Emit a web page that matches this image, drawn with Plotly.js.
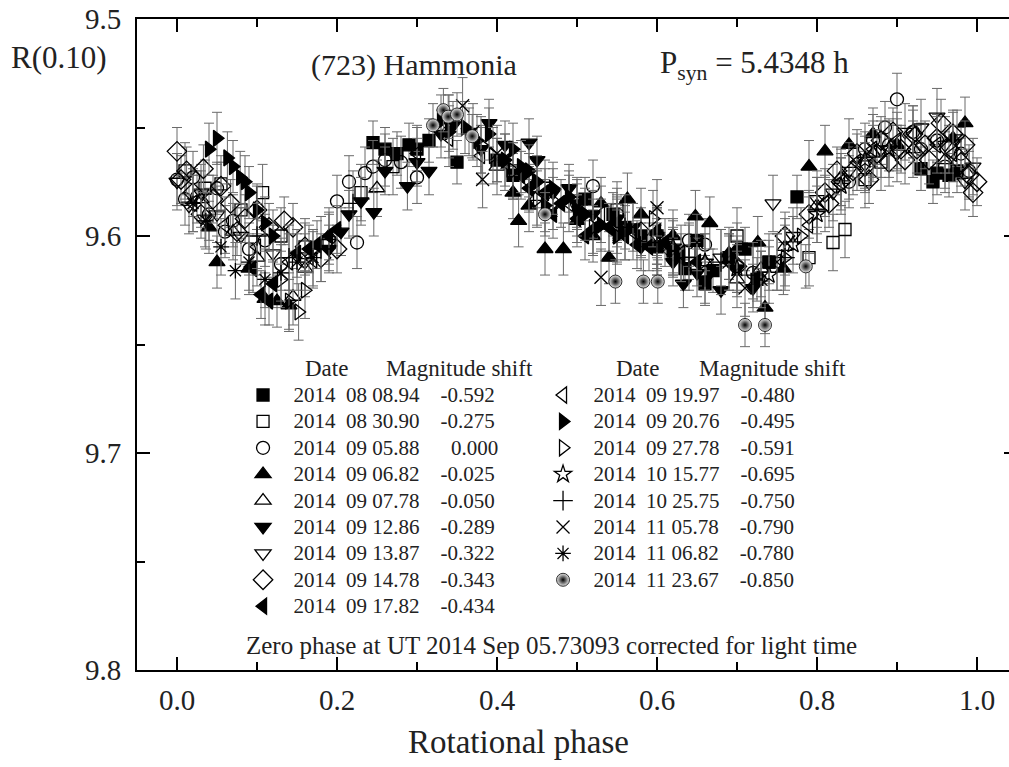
<!DOCTYPE html>
<html>
<head>
<meta charset="utf-8">
<script src="https://cdn.plot.ly/plotly-3.0.1.min.js"></script>
<style>
html,body{margin:0;padding:0;overflow:hidden;background:#fff;}
#chart{width:1030px;height:767px;}
</style>
</head>
<body>
<div id="chart"></div>
<script>
// ---- Session labels (date, magnitude shift) ----
const dates = ["2014 08 08.94","2014 08 30.90","2014 09 05.88","2014 09 06.82","2014 09 07.78","2014 09 12.86","2014 09 13.87","2014 09 14.78","2014 09 17.82",
               "2014 09 19.97","2014 09 20.76","2014 09 27.78","2014 10 15.77","2014 10 25.75","2014 11 05.78","2014 11 06.82","2014 11 23.67"];
const shifts = ["-0.592","-0.275","0.000","-0.025","-0.050","-0.289","-0.322","-0.343","-0.434",
                "-0.480","-0.495","-0.591","-0.695","-0.750","-0.790","-0.780","-0.850"];
const errs = [0.010,0.013,0.012,0.012,0.013,0.011,0.013,0.011,0.011,0.013,0.012,0.013,0.013,0.015,0.013,0.013,0.010];

// ---- Phase / magnitude per session ----
const p01 = [0.245,0.26,0.275,0.29,0.30,0.315,0.35,0.51,0.58,0.62,0.65,0.67,0.69,0.71,0.775,0.93,0.95,0.965,0.975,0.40,0.42,0.545,0.56,0.6,0.635,0.66,0.725,0.74,0.945];
const m01 = [9.557,9.560,9.562,9.558,9.560,9.556,9.566,9.583,9.600,9.607,9.602,9.616,9.610,9.606,9.582,9.569,9.571,9.572,9.570,9.565,9.572,9.590,9.596,9.605,9.615,9.622,9.620,9.612,9.575];
const p02 = [0.01,0.035,0.055,0.08,0.107,0.13,0.16,0.19,0.23,0.27,0.42,0.46,0.55,0.6,0.64,0.7,0.74,0.79,0.82,0.835,0.86,0.88];
const m02 = [9.570,9.578,9.576,9.588,9.580,9.600,9.605,9.603,9.580,9.568,9.570,9.578,9.588,9.600,9.607,9.600,9.612,9.610,9.603,9.597,9.574,9.566];
const p03 = [0.0,0.01,0.025,0.04,0.06,0.09,0.13,0.2,0.215,0.225,0.235,0.245,0.26,0.28,0.3,0.47,0.5,0.52,0.55,0.64,0.66,0.72,0.86,0.885,0.9,0.92,0.98,0.02,0.05,0.07,0.11,0.84,0.87,0.89,0.93,0.95,0.96,0.99];
const m03 = [9.574,9.583,9.582,9.590,9.598,9.606,9.613,9.584,9.575,9.603,9.571,9.568,9.565,9.566,9.573,9.585,9.585,9.577,9.590,9.602,9.604,9.617,9.560,9.550,9.537,9.552,9.562,9.573,9.578,9.593,9.602,9.575,9.556,9.558,9.560,9.556,9.568,9.570];
const p04 = [0.04,0.05,0.09,0.11,0.125,0.14,0.42,0.427,0.46,0.483,0.5,0.53,0.563,0.6,0.648,0.666,0.69,0.726,0.735,0.758,0.79,0.81,0.9,0.985,0.44,0.52,0.54,0.58,0.62,0.7,0.97,0.84,0.87];
const m04 = [9.596,9.612,9.615,9.629,9.630,9.632,9.580,9.593,9.606,9.606,9.593,9.585,9.583,9.598,9.591,9.594,9.608,9.603,9.633,9.615,9.568,9.561,9.558,9.548,9.586,9.600,9.610,9.590,9.600,9.606,9.555,9.558,9.553];
const p05 = [0.03,0.07,0.1,0.145,0.16,0.19,0.25,0.4,0.45,0.6,0.66,0.7,0.73,0.76,0.8,0.83,0.87,0.92,0.96];
const m05 = [9.583,9.598,9.610,9.628,9.615,9.600,9.578,9.568,9.582,9.605,9.612,9.620,9.615,9.605,9.586,9.573,9.562,9.560,9.565];
const p06 = [0.19,0.205,0.215,0.23,0.246,0.26,0.288,0.3,0.315,0.33,0.345,0.365,0.38,0.44,0.47,0.5,0.55,0.6,0.633,0.65,0.68,0.7,0.39,0.41,0.45,0.49,0.52,0.57,0.58,0.62,0.66,0.72];
const m06 = [9.606,9.598,9.590,9.584,9.589,9.570,9.577,9.566,9.570,9.553,9.549,9.552,9.560,9.557,9.580,9.585,9.592,9.605,9.622,9.617,9.625,9.615,9.548,9.558,9.565,9.578,9.590,9.596,9.605,9.612,9.620,9.624];
const p07 = [0.0,0.015,0.03,0.05,0.08,0.12,0.16,0.55,0.6,0.68,0.745,0.77,0.8,0.84,0.88,0.91,0.95,0.975,0.995,0.82,0.86,0.9,0.93,0.96,0.985,0.035];
const m07 = [9.575,9.586,9.580,9.590,9.600,9.608,9.612,9.595,9.600,9.610,9.585,9.600,9.583,9.570,9.560,9.552,9.545,9.555,9.568,9.580,9.567,9.562,9.550,9.558,9.575,9.592];
const p08 = [0.0,0.005,0.012,0.02,0.033,0.045,0.055,0.067,0.085,0.1,0.115,0.134,0.145,0.16,0.18,0.2,0.58,0.62,0.7,0.76,0.79,0.81,0.83,0.845,0.86,0.875,0.89,0.905,0.92,0.935,0.95,0.965,0.98,0.99,1.0,
             0.815,0.825,0.85,0.865,0.88,0.895,0.91,0.925,0.94,0.955,0.97,0.985,0.995,0.03,0.075];
const m08 = [9.561,9.574,9.570,9.580,9.569,9.583,9.577,9.585,9.592,9.588,9.596,9.593,9.596,9.605,9.610,9.606,9.598,9.607,9.614,9.600,9.590,9.580,9.575,9.570,9.568,9.562,9.566,9.560,9.553,9.558,9.555,9.560,9.566,9.572,9.575,
             9.585,9.570,9.562,9.574,9.556,9.552,9.565,9.560,9.565,9.548,9.553,9.558,9.580,9.590,9.598];
const p09 = [0.095,0.105,0.115,0.15,0.165,0.175,0.19,0.2,0.43,0.46,0.48,0.5,0.52,0.54,0.56,0.59,0.61,0.63,0.12,0.44,0.47,0.51,0.55,0.575,0.6,0.65];
const m09 = [9.615,9.627,9.630,9.608,9.606,9.604,9.600,9.597,9.572,9.580,9.585,9.592,9.597,9.596,9.600,9.605,9.603,9.610,9.622,9.578,9.590,9.600,9.594,9.604,9.598,9.612];
const p10 = [0.02,0.06,0.1,0.14,0.17,0.3,0.34,0.38,0.41,0.44,0.49,0.53,0.57,0.63,0.69,0.75,0.79,0.85,0.9,0.95,0.81,0.83,0.87,0.92,0.97];
const m10 = [9.585,9.595,9.605,9.612,9.611,9.562,9.555,9.563,9.566,9.575,9.585,9.590,9.598,9.608,9.612,9.612,9.595,9.566,9.556,9.558,9.585,9.575,9.560,9.553,9.562];
const p11 = [0.05,0.063,0.07,0.079,0.09,0.1,0.11,0.12,0.33,0.36,0.39,0.41,0.43,0.45,0.47,0.49,0.51,0.04,0.085,0.34,0.375,0.42,0.44,0.46,0.5,0.53,0.55];
const m11 = [9.555,9.564,9.568,9.573,9.580,9.588,9.594,9.600,9.547,9.550,9.553,9.565,9.568,9.575,9.578,9.582,9.590,9.560,9.575,9.552,9.556,9.560,9.570,9.586,9.588,9.595,9.600];
const p12 = [0.13,0.14,0.152,0.16,0.38,0.395,0.42,0.45,0.52,0.55,0.595,0.62,0.7,0.73,0.76,0.78];
const m12 = [9.620,9.630,9.635,9.625,9.558,9.563,9.570,9.583,9.596,9.600,9.592,9.606,9.613,9.620,9.610,9.600];
const p13 = [0.62,0.66,0.7,0.74,0.77,0.8,0.83,0.86,0.89];
const m13 = [9.605,9.612,9.615,9.618,9.604,9.590,9.577,9.565,9.560];
const p14 = [0.1,0.14,0.18,0.22,0.56,0.6,0.64,0.68,0.72,0.76,0.8];
const m14 = [9.600,9.610,9.606,9.585,9.596,9.603,9.610,9.612,9.618,9.610,9.588];
const p15 = [0.34,0.357,0.37,0.382,0.4,0.53,0.6,0.65,0.69,0.71,0.73,0.75];
const m15 = [9.548,9.540,9.552,9.574,9.562,9.619,9.587,9.603,9.612,9.624,9.620,9.612];
const p16 = [0.02,0.036,0.055,0.073,0.09,0.11,0.13,0.15,0.17];
const m16 = [9.585,9.593,9.605,9.616,9.612,9.620,9.617,9.612,9.610];
const p17 = [0.32,0.333,0.339,0.35,0.369,0.46,0.548,0.583,0.601,0.71,0.735,0.786];
const m17 = [9.549,9.542,9.545,9.544,9.554,9.590,9.621,9.621,9.621,9.641,9.641,9.614];

const phases = [p01,p02,p03,p04,p05,p06,p07,p08,p09,p10,p11,p12,p13,p14,p15,p16,p17];
const mags   = [m01,m02,m03,m04,m05,m06,m07,m08,m09,m10,m11,m12,m13,m14,m15,m16,m17];

// ---- Styles ----
const symbols = ["square","square-open","circle-open","triangle-up","triangle-up-open","triangle-down","triangle-down-open","diamond-open","triangle-left",
                 "triangle-left-open","triangle-right","triangle-right-open","star-open","cross-thin-open","x-thin-open","asterisk-open","circle"];
const sizes = [12,12,13,14,14,14,14,15,14,14,14,14,13,14,13,13,13];
const SERIF = "'Liberation Serif','Times New Roman',serif";
const NB = "\u00A0";

function label(i){
  const d = dates[i].split(" ");
  const sh = shifts[i];
  const gap = sh.startsWith("-") ? NB.repeat(4) : NB.repeat(6);
  return '<span style="font-size:21px">' + NB+NB + d[0] + NB+NB + d[1] + " " + d[2] + gap + sh + '</span>';
}

const traces = phases.map((px,i)=>{
  const isBall = symbols[i]==="circle";
  return {
    type:"scatter", mode:"markers",
    x:px, y:mags[i],
    name:label(i),
    legend: i<9 ? "legend" : "legend2",
    error_y:{type:"constant", value:errs[i], color:"#6a6a6a", thickness:1, width:5},
    marker:{
      symbol:symbols[i], size:sizes[i],
      color: isBall ? "#e8e8e8" : "#000",
      gradient: isBall ? {type:"radial", color:"#000"} : undefined,
      line:{color:"#000", width: isBall ? 0.8 : 1.3}
    },
    hoverinfo:"x+y"
  };
});

const axisCommon = {
  showline:true, linecolor:"#000", linewidth:2, mirror:"allticks",
  ticks:"inside", ticklen:13, tickwidth:2, tickcolor:"#000",
  showgrid:false, zeroline:false,
  tickfont:{family:SERIF, size:29, color:"#222"}
};

const ann = (x,y,text,size,xa) => ({xref:"paper", yref:"paper", x:x, y:y, text:text, showarrow:false,
  xanchor:xa||"center", yanchor:"middle", font:{family:SERIF,size:size,color:"#222"}});

const layout = {
  width:1030, height:767,
  margin:{l:137, r:13, t:19, b:97},
  paper_bgcolor:"#fff", plot_bgcolor:"#fff",
  font:{family:SERIF, color:"#222"},
  showlegend:true,
  xaxis: Object.assign({}, axisCommon, {
    range:[-0.05,1.05], tick0:0, dtick:0.2, tickformat:".1f",
    minor:{dtick:0.1, ticks:"inside", ticklen:8, tickwidth:2, tickcolor:"#000"},
    ticklabelstandoff:3
  }),
  yaxis: Object.assign({}, axisCommon, {
    range:[9.8,9.5], tick0:9.5, dtick:0.1, tickformat:".1f",
    minor:{dtick:0.05, ticks:"inside", ticklen:8, tickwidth:2, tickcolor:"#000"},
    ticklabelstandoff:8
  }),
  legend:{x:0.1205, y:0.4504, xanchor:"left", yanchor:"top", bgcolor:"rgba(0,0,0,0)", borderwidth:0,
          font:{family:SERIF, size:18, color:"#222"}, itemclick:false, itemdoubleclick:false},
  legend2:{x:0.4614, y:0.4504, xanchor:"left", yanchor:"top", bgcolor:"rgba(0,0,0,0)", borderwidth:0,
          font:{family:SERIF, size:18, color:"#222"}, itemclick:false, itemdoubleclick:false},
  annotations:[
    ann(-0.0886, 0.9416, "R(0.10)", 31),
    ann(0.3148, 0.9293, "(723) Hammonia", 30),
    ann(0.592, 0.9293, "P<sub>syn</sub> = 5.4348 h", 31, "left"),
    ann(0.2148, 0.4639, "Date", 23),
    ann(0.367, 0.4639, "Magnitude shift", 23),
    ann(0.5693, 0.4639, "Date", 23),
    ann(0.7216, 0.4639, "Magnitude shift", 23),
    ann(0.4705, 0.0384, "Zero phase at UT 2014 Sep 05.73093 corrected for light time", 25),
    ann(0.433, -0.1106, "Rotational phase", 33)
  ]
};

Plotly.newPlot("chart", traces, layout, {displayModeBar:false, responsive:false});
</script>
</body>
</html>
